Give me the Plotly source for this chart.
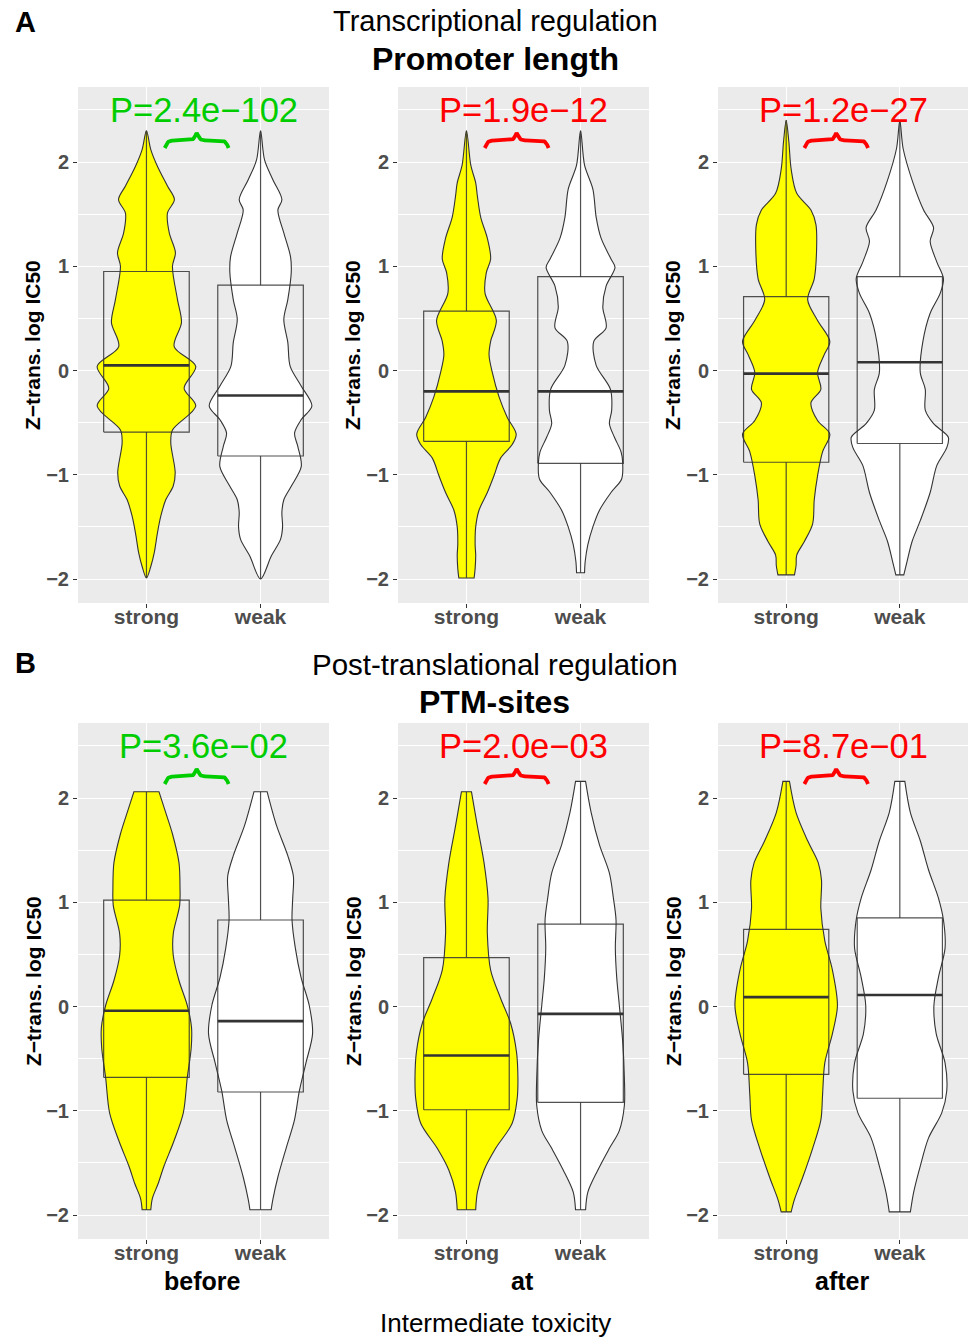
import numpy as np
import plotly.graph_objects as go

FONT = "Liberation Sans, Arial, Helvetica, sans-serif"
W, H = 968, 1337

categories = ["strong", "weak"]
cat_pos = [1, 2]
fill_colors = ["#FFFF00", "#FFFFFF"]

# ---- violin outlines: heights (Z-transformed log IC50) and half-widths (category units) ----
# Row A: promoter length
a1_strong_y = [2.30, 2.12, 1.96, 1.77, 1.64, 1.51, 1.32, 1.13, 1.00, 0.68, 0.46, 0.23, 0.04, -0.17, -0.34, -0.57, -0.69, -0.98, -1.11, -1.24, -1.40, -1.56, -1.75, -1.88, -1.99]
a1_strong_w = [0.0, 0.038, 0.096, 0.184, 0.245, 0.184, 0.20, 0.254, 0.228, 0.272, 0.307, 0.243, 0.432, 0.33, 0.432, 0.228, 0.213, 0.252, 0.234, 0.169, 0.125, 0.096, 0.068, 0.038, 0.0]
a1_weak_y = [2.30, 2.02, 1.83, 1.64, 1.54, 1.32, 1.09, 0.94, 0.68, 0.49, 0.27, 0.04, -0.15, -0.34, -0.47, -0.60, -0.73, -0.92, -1.11, -1.24, -1.36, -1.50, -1.62, -1.78, -2.00]
a1_weak_w = [0.0, 0.035, 0.108, 0.187, 0.152, 0.204, 0.263, 0.269, 0.239, 0.204, 0.239, 0.26, 0.357, 0.45, 0.357, 0.298, 0.327, 0.357, 0.269, 0.204, 0.187, 0.193, 0.175, 0.094, 0.0]

a2_strong_y = [2.30, 1.97, 1.80, 1.67, 1.47, 1.27, 1.07, 0.94, 0.74, 0.48, 0.28, 0.15, -0.02, -0.25, -0.45, -0.61, -0.71, -0.84, -1.01, -1.17, -1.34, -1.50, -1.67, -1.77, -1.90, -1.99]
a2_strong_w = [0.0, 0.038, 0.081, 0.096, 0.125, 0.183, 0.212, 0.174, 0.163, 0.262, 0.212, 0.198, 0.227, 0.285, 0.358, 0.436, 0.401, 0.299, 0.241, 0.183, 0.110, 0.081, 0.076, 0.081, 0.076, 0.067]
a2_weak_y = [2.30, 1.97, 1.74, 1.47, 1.27, 1.07, 0.99, 0.81, 0.61, 0.41, 0.28, 0.05, -0.18, -0.38, -0.51, -0.64, -0.78, -0.88, -1.04, -1.17, -1.34, -1.50, -1.67, -1.83, -1.94]
a2_weak_w = [0.0, 0.035, 0.108, 0.137, 0.180, 0.267, 0.302, 0.224, 0.195, 0.224, 0.116, 0.137, 0.262, 0.273, 0.253, 0.297, 0.355, 0.369, 0.360, 0.267, 0.166, 0.108, 0.064, 0.041, 0.035]

a3_strong_y = [2.40, 2.20, 1.93, 1.70, 1.54, 1.40, 1.14, 0.88, 0.68, 0.48, 0.28, 0.15, -0.02, -0.18, -0.31, -0.48, -0.61, -0.78, -1.01, -1.24, -1.47, -1.64, -1.77, -1.87, -1.96]
a3_strong_w = [0.0, 0.023, 0.044, 0.093, 0.218, 0.262, 0.267, 0.247, 0.189, 0.276, 0.384, 0.334, 0.276, 0.305, 0.218, 0.276, 0.384, 0.320, 0.276, 0.247, 0.233, 0.160, 0.093, 0.087, 0.073]
a3_weak_y = [2.40, 2.13, 1.80, 1.54, 1.37, 1.24, 1.04, 0.88, 0.74, 0.55, 0.28, -0.02, -0.18, -0.38, -0.51, -0.64, -0.74, -0.91, -1.17, -1.44, -1.64, -1.83, -1.96]
a3_weak_w = [0.0, 0.029, 0.116, 0.209, 0.297, 0.267, 0.326, 0.384, 0.355, 0.267, 0.203, 0.180, 0.224, 0.224, 0.297, 0.427, 0.413, 0.326, 0.267, 0.180, 0.108, 0.064, 0.035]

# Row B: PTM-sites
b1_strong_y = [2.06, 1.86, 1.66, 1.38, 1.14, 0.97, 0.70, 0.49, 0.25, 0.01, -0.20, -0.40, -0.68, -1.02, -1.29, -1.53, -1.70, -1.84, -1.95]
b1_strong_w = [0.110, 0.169, 0.227, 0.285, 0.294, 0.291, 0.235, 0.235, 0.285, 0.358, 0.395, 0.392, 0.358, 0.323, 0.241, 0.154, 0.102, 0.052, 0.038]
b1_weak_y = [2.06, 1.73, 1.45, 1.25, 1.04, 0.83, 0.56, 0.28, 0.01, -0.26, -0.54, -0.81, -1.09, -1.36, -1.64, -1.85, -1.95]
b1_weak_w = [0.058, 0.142, 0.238, 0.288, 0.282, 0.276, 0.305, 0.355, 0.427, 0.456, 0.398, 0.340, 0.297, 0.224, 0.151, 0.108, 0.093]

b2_strong_y = [2.06, 1.73, 1.38, 1.04, 0.70, 0.35, 0.08, -0.16, -0.44, -0.68, -0.88, -1.12, -1.36, -1.57, -1.78, -1.95]
b2_strong_w = [0.044, 0.096, 0.154, 0.189, 0.183, 0.212, 0.299, 0.387, 0.439, 0.451, 0.445, 0.401, 0.256, 0.154, 0.096, 0.081]
b2_weak_y = [2.16, 1.86, 1.55, 1.28, 1.04, 0.83, 0.56, 0.28, 0.01, -0.33, -0.68, -0.95, -1.19, -1.36, -1.57, -1.78, -1.95]
b2_weak_w = [0.044, 0.093, 0.166, 0.253, 0.288, 0.311, 0.305, 0.317, 0.340, 0.369, 0.384, 0.384, 0.340, 0.253, 0.151, 0.064, 0.044]

b3_strong_y = [2.16, 1.86, 1.59, 1.38, 1.21, 0.94, 0.63, 0.35, 0.01, -0.26, -0.54, -0.85, -1.09, -1.36, -1.64, -1.85, -1.97]
b3_strong_w = [0.029, 0.087, 0.189, 0.282, 0.311, 0.305, 0.340, 0.407, 0.451, 0.407, 0.340, 0.320, 0.305, 0.233, 0.145, 0.073, 0.044]
b3_weak_y = [2.16, 1.86, 1.59, 1.31, 1.04, 0.83, 0.56, 0.28, 0.01, -0.26, -0.54, -0.81, -1.02, -1.26, -1.53, -1.78, -1.97]
b3_weak_w = [0.044, 0.093, 0.180, 0.253, 0.340, 0.384, 0.398, 0.340, 0.300, 0.320, 0.398, 0.413, 0.369, 0.253, 0.180, 0.122, 0.093]

# ---- box statistics, one value per panel (A: promoter length x3, B: PTM-sites x3) ----
strong_lower = [-1.99, -1.99, -1.96, -1.95, -1.95, -1.97]
strong_q1 = [-0.59, -0.68, -0.88, -0.68, -0.99, -0.65]
strong_median = [0.05, -0.20, -0.03, -0.04, -0.47, 0.09]
strong_q3 = [0.95, 0.57, 0.71, 1.02, 0.47, 0.74]
strong_upper = [2.30, 2.30, 2.40, 2.06, 2.06, 2.16]

weak_lower = [-2.00, -1.94, -1.96, -1.95, -1.95, -1.97]
weak_q1 = [-0.82, -0.89, -0.70, -0.82, -0.92, -0.88]
weak_median = [-0.24, -0.20, 0.08, -0.14, -0.07, 0.11]
weak_q3 = [0.82, 0.90, 0.90, 0.83, 0.79, 0.85]
weak_upper = [2.30, 2.30, 2.40, 2.06, 2.16, 2.16]

# ---- test results ----
p_labels = ["P=2.4e\u2212102", "P=1.9e\u221212", "P=1.2e\u221227",
            "P=3.6e\u221202", "P=2.0e\u221203", "P=8.7e\u221201"]
p_colors = ["#00CD00", "#FF0000", "#FF0000", "#00CD00", "#FF0000", "#FF0000"]

toxicity_stages = ["before", "at", "after"]

y_ticks = [-2, -1, 0, 1, 2]
y_ticktext = ["\u22122", "\u22121", "0", "1", "2"]

violin_y = [(a1_strong_y, a1_weak_y), (a2_strong_y, a2_weak_y), (a3_strong_y, a3_weak_y),
            (b1_strong_y, b1_weak_y), (b2_strong_y, b2_weak_y), (b3_strong_y, b3_weak_y)]
violin_w = [(a1_strong_w, a1_weak_w), (a2_strong_w, a2_weak_w), (a3_strong_w, a3_weak_w),
            (b1_strong_w, b1_weak_w), (b2_strong_w, b2_weak_w), (b3_strong_w, b3_weak_w)]
box_stats = [(strong_lower, strong_q1, strong_median, strong_q3, strong_upper),
             (weak_lower, weak_q1, weak_median, weak_q3, weak_upper)]

# ---- panel geometry (pixels) ----
col_px = [(78, 329), (398, 649), (718, 968)]
row_px = [(87, 603), (723, 1239)]
BOX_HALF = 0.375
Y_RANGE = [-2.23, 2.72]
X_RANGE = [0.4, 2.6]
LINE_DARK = "#333333"


def violin_outline(center, ys, ws):
    """Closed outline: right side bottom->top, left side top->bottom, back to start.
    Flat (trimmed) ends get doubled corner points so the spline keeps them square."""
    ys = [float(v) for v in ys]
    ws = [float(v) for v in ws]
    xs_out, ys_out = [], []
    # right side, bottom -> top
    for j in range(len(ys) - 1, -1, -1):
        xs_out.append(center + ws[j])
        ys_out.append(ys[j])
        if j in (0, len(ys) - 1) and ws[j] > 0:
            xs_out.append(center + ws[j])
            ys_out.append(ys[j])
    # left side, top -> bottom
    start = 1 if ws[0] == 0 else 0
    for j in range(start, len(ys)):
        if j == len(ys) - 1 and ws[j] == 0:
            break
        xs_out.append(center - ws[j])
        ys_out.append(ys[j])
        if j in (0, len(ys) - 1) and ws[j] > 0:
            xs_out.append(center - ws[j])
            ys_out.append(ys[j])
    xs_out.append(xs_out[0])
    ys_out.append(ys_out[0])
    return xs_out, ys_out


def box_outline(center, lo, q1, q3, hi):
    """Box rectangle plus whiskers as one broken polyline."""
    a, b = center - BOX_HALF, center + BOX_HALF
    xs = [a, b, b, a, a, None, center, center, None, center, center]
    ys = [q1, q1, q3, q3, q1, None, q3, hi, None, lo, q1]
    return xs, ys


def brace_path(x_left, x_right, y_base, height, n=60, beta=40.0):
    """Horizontal curly brace opening downward, tip pointing up."""
    span = x_right - x_left
    t = np.linspace(0.0, 0.5, n)
    half = 1.0 / (1.0 + np.exp(-beta * (t - t[0]))) + 1.0 / (1.0 + np.exp(-beta * (t - t[-1])))
    half = (half - half[0]) / (half[-1] - half[0])
    xs = np.concatenate([x_left + span * t, x_left + span * (1.0 - t[::-1])])
    ys = np.concatenate([half, half[::-1]]) * height + y_base
    return xs, ys


fig = go.Figure()
layout_axes = {}
annotations = []

for i in range(6):
    r, c = divmod(i, 3)
    ax = "" if i == 0 else str(i + 1)
    xref, yref = "x" + ax, "y" + ax
    x0, x1 = col_px[c]
    y0, y1 = row_px[r]

    # violins
    for k in range(2):
        vx, vy = violin_outline(cat_pos[k], violin_y[i][k], violin_w[i][k])
        fig.add_trace(go.Scatter(
            x=vx, y=vy, mode="lines", fill="toself", fillcolor=fill_colors[k],
            line=dict(color=LINE_DARK, width=1.1, shape="spline", smoothing=0.9),
            xaxis=xref, yaxis=yref, hoverinfo="skip", showlegend=False))

    # boxes drawn on top of the violins
    for k in range(2):
        lo, q1, med, q3, hi = (s[i] for s in box_stats[k])
        bxs, bys = box_outline(cat_pos[k], lo, q1, q3, hi)
        fig.add_trace(go.Scatter(
            x=bxs, y=bys, mode="lines", line=dict(color="rgba(51,51,51,0.85)", width=1.2),
            connectgaps=False, xaxis=xref, yaxis=yref, hoverinfo="skip", showlegend=False))
        fig.add_trace(go.Scatter(
            x=[cat_pos[k] - BOX_HALF, cat_pos[k] + BOX_HALF], y=[med, med],
            mode="lines", line=dict(color=LINE_DARK, width=2.6),
            xaxis=xref, yaxis=yref, hoverinfo="skip", showlegend=False))

    # brace and p-value
    bx, by = brace_path(1.16, 1.72, 2.135, 0.145)
    fig.add_trace(go.Scatter(
        x=bx, y=by, mode="lines", line=dict(color=p_colors[i], width=3.8),
        xaxis=xref, yaxis=yref, hoverinfo="skip", showlegend=False))
    annotations.append(dict(
        x=1.5, y=2.5, xref=xref, yref=yref, text=p_labels[i], showarrow=False,
        xanchor="center", yanchor="middle",
        font=dict(family=FONT, size=34.5, color=p_colors[i])))

    layout_axes["xaxis" + ax] = dict(
        domain=[x0 / W, x1 / W], range=X_RANGE, anchor=yref,
        tickvals=cat_pos, ticktext=categories, ticks="outside", ticklen=4,
        tickcolor=LINE_DARK, tickwidth=1.1, ticklabelstandoff=-9,
        tickfont=dict(family=FONT, size=21, color="#4D4D4D", weight="bold"),
        showgrid=True, gridcolor="white", gridwidth=1.2,
        zeroline=False, showline=False, fixedrange=True)
    layout_axes["yaxis" + ax] = dict(
        domain=[1 - y1 / H, 1 - y0 / H], range=Y_RANGE, anchor=xref,
        tickvals=y_ticks, ticktext=y_ticktext, ticks="outside", ticklen=4,
        tickcolor=LINE_DARK, tickwidth=1.1,
        tickfont=dict(family=FONT, size=20, color="#4D4D4D", weight="bold"),
        showgrid=True, gridcolor="white", gridwidth=1.2,
        minor=dict(tickvals=[-1.5, -0.5, 0.5, 1.5, 2.5], showgrid=True,
                   gridcolor="white", gridwidth=0.6, ticks=""),
        zeroline=False, showline=False, fixedrange=True)

    # y-axis title
    annotations.append(dict(
        x=(x0 - 45) / W, y=1 - ((y0 + y1) / 2) / H, xref="paper", yref="paper",
        text="<b>Z\u2212trans. log IC50</b>", textangle=-90, showarrow=False,
        xanchor="center", yanchor="middle",
        font=dict(family=FONT, size=21, color="black")))

    if r == 1:
        annotations.append(dict(
            x=((x0 + x1) / 2 - 1) / W, y=1 - 1281 / H, xref="paper", yref="paper",
            text="<b>" + toxicity_stages[c] + "</b>", showarrow=False,
            xanchor="center", yanchor="middle",
            font=dict(family=FONT, size=25, color="black")))


def paper_text(text, x, y, size, bold=False, anchor="center"):
    annotations.append(dict(
        x=x / W, y=1 - y / H, xref="paper", yref="paper",
        text=("<b>%s</b>" % text) if bold else text, showarrow=False,
        xanchor=anchor, yanchor="middle",
        font=dict(family=FONT, size=size, color="black")))


paper_text("A", 13, 22, 29, bold=True, anchor="left")
paper_text("B", 13, 663, 29, bold=True, anchor="left")
paper_text("Transcriptional regulation", 495, 21, 29)
paper_text("Promoter length", 495, 59, 32, bold=True)
paper_text("Post-translational regulation", 495, 664, 29.5)
paper_text("PTM-sites", 494, 702, 32, bold=True)
paper_text("Intermediate toxicity", 496, 1323, 26)

fig.update_layout(
    width=W, height=H, margin=dict(l=0, r=0, t=0, b=0),
    paper_bgcolor="white", plot_bgcolor="#EBEBEB",
    showlegend=False,
    font=dict(family=FONT),
    annotations=annotations,
    **layout_axes)

fig.write_html("out.html")
